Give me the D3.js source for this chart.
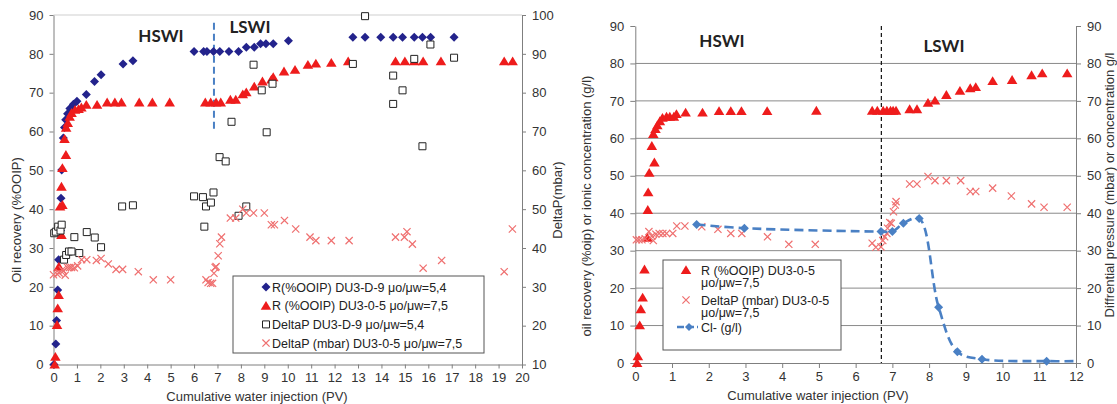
<!DOCTYPE html>
<html>
<head>
<meta charset="utf-8">
<script src="https://cdn.jsdelivr.net/npm/d3@7"></script>
<style>
  body { margin: 0; background: #fff; }
  text { font-family: "Liberation Sans", Arial, sans-serif; }
</style>
</head>
<body>
<svg id="chart" width="1117" height="404"></svg>
<script>
// ---- left panel data (DU3-D-9 and DU3-0-5) ----
const lDiamondPV = [0.02, 0.1, 0.13, 0.18, 0.22, 0.3, 0.32, 0.35, 0.42, 0.47, 0.52, 0.6, 0.7, 0.85, 1.0, 1.4, 1.75, 2.03, 2.97, 3.39,
  6.0, 6.41, 6.55, 6.83, 7.1, 7.49, 7.9, 8.23, 8.57, 8.84, 9.07, 9.38, 10.03,
  12.78, 13.3, 13.97, 14.5, 14.9, 15.4, 15.75, 16.1, 17.1];
const lDiamondR = [0, 5.3, 11.3, 19.2, 27, 34.5, 42.8, 50.1, 58.3, 61, 63, 64.6, 65.9, 67, 67.8, 69.5, 72.9, 74.6, 77.4, 78.2,
  80.6, 80.6, 80.6, 80.6, 80.6, 80.6, 80.6, 81.7, 81.7, 82.6, 82.6, 82.6, 83.4,
  84.3, 84.3, 84.3, 84.3, 84.3, 84.3, 84.3, 84.3, 84.3];

const lTrianglePV = [0.05, 0.08, 0.15, 0.18, 0.22, 0.23, 0.28, 0.34, 0.38, 0.34, 0.38, 0.53, 0.47, 0.54, 0.61, 0.69, 0.77, 0.92, 1.07, 1.19,
  1.4, 1.86, 2.29, 2.62, 2.9, 3.66, 4.22, 4.96, 6.48, 6.71, 6.94, 7.14, 7.55, 7.78, 8.08, 8.23, 8.57, 8.92, 9.3, 9.38,
  9.84, 10.31, 10.86, 11.2, 11.86, 12.58, 14.6, 15.0, 15.4, 15.78, 16.54, 19.24, 19.6];
const lTriangleR = [0, 2, 10.2, 14.5, 17.9, 25.2, 40.7, 33.4, 41.1, 45.8, 50.6, 54, 58.1, 61, 62.2, 63.8, 64.8, 65.6, 65.8, 66.2,
  66.9, 66.9, 67.5, 67.5, 67.5, 67.5, 67.5, 67.5, 67.5, 67.5, 67.5, 67.5, 68.2, 68.2, 69.6, 70.1, 71.6, 72.9, 73.4, 74,
  75.5, 75.9, 77.2, 77.5, 77.7, 78.1, 78.1, 78.1, 78.1, 78.1, 78.1, 78.1, 78.1];

const lSquarePV = [0.03, 0.1, 0.2, 0.3, 0.35, 0.45, 0.54, 0.66, 0.77, 0.89, 1.1, 1.42, 1.76, 2.03, 2.93, 3.39,
  6.0, 6.38, 6.44, 6.51, 6.72, 6.83, 7.09, 7.35, 7.6, 7.9, 8.23, 8.54, 8.89, 9.1, 9.35,
  12.78, 13.3, 14.5, 14.5, 14.9, 15.4, 15.75, 16.09, 17.1];
const lSquareDP = [43.8, 44.2, 45.5, 44.5, 46, 37, 38.2, 39.1, 39.1, 42.8, 38.7, 44.1, 42.7, 40.2, 50.7, 51,
  53.3, 53.1, 45.5, 50.7, 51.7, 54.3, 63.4, 62.3, 72.5, 48.3, 50.7, 87.2, 80.6, 69.8, 82.3,
  87.4, 99.7, 84.4, 77.1, 80.6, 88.7, 66.2, 92.4, 89];

const lCrossPV = [0.0, 0.15, 0.24, 0.38, 0.42, 0.5, 0.6, 0.69, 0.77, 0.89, 1.03, 1.2, 1.42, 1.83, 2.03, 2.34, 2.67, 2.95, 3.62, 4.26, 5.0,
  6.51, 6.6, 6.71, 6.79, 6.85, 6.9, 6.94, 7.03, 7.1, 7.17, 7.55, 7.78, 8.08, 8.23, 8.54, 9.0, 9.3, 9.43, 9.86, 10.34,
  10.95, 11.2, 11.86, 12.62, 14.6, 14.98, 15.09, 15.32, 15.78, 16.57, 19.24, 19.59];
const lCrossDP = [33.1, 33.3, 33.6, 34.4, 34.1, 33, 35, 35, 35, 34.9, 35.4, 37, 37, 36.8, 37.3, 35.9, 34.5, 34.5, 33.9, 31.8, 31.8,
  31.8, 31.1, 30.9, 30.9, 33.5, 35, 35.2, 38, 41.1, 42.8, 47.7, 47.7, 50, 49, 49, 49, 46, 46, 47.1, 44.9,
  42.8, 41.9, 41.9, 41.9, 42.8, 42.8, 44.2, 41, 34.8, 36.8, 33.9, 44.9];

// ---- right panel data (DU3-0-5) ----
const rTrianglePV = [0.05, 0.07, 0.12, 0.15, 0.2, 0.25, 0.33, 0.34, 0.35, 0.38, 0.52, 0.45, 0.49, 0.55, 0.6, 0.67, 0.74, 0.85, 0.94, 1.05, 1.12,
  1.37, 1.83, 2.28, 2.6, 2.89, 3.59, 4.93, 6.45, 6.59, 6.75, 6.85, 6.95, 7.02, 7.1,
  7.47, 7.67, 7.97, 8.16, 8.47, 8.84, 9.12, 9.27, 9.73, 10.26, 10.79, 11.08, 11.76];
const rTriangleR = [0, 1.8, 10.1, 14.4, 17.5, 25, 33.5, 40.9, 45.6, 50.8, 53.6, 58, 61.2, 62.5, 63.5, 64.6, 65.5, 65.8, 65.8, 65.8, 66.5,
  66.9, 66.9, 67.3, 67.3, 67.3, 67.3, 67.4, 67.4, 67.4, 67.4, 67.4, 67.4, 67.4, 67.4,
  67.8, 67.8, 69.5, 70.1, 71.6, 72.7, 73.4, 73.7, 75.3, 75.6, 76.9, 77.4, 77.4];

const rCrossPV = [0.03, 0.1, 0.18, 0.27, 0.37, 0.45, 0.49, 0.56, 0.65, 0.75, 0.85, 1.02, 1.13, 1.35, 1.81, 2.25, 2.6, 2.9, 3.6, 4.18, 4.9,
  6.45, 6.55, 6.69, 6.74, 6.79, 6.85, 6.87, 6.93, 6.97, 7.03, 7.08, 7.1,
  7.47, 7.67, 7.97, 8.16, 8.47, 8.86, 9.12, 9.27, 9.73, 10.24, 10.79, 11.13, 11.76];
const rCrossDP = [32.9, 32.9, 32.9, 33.2, 35.1, 33.9, 32.7, 34.4, 34.6, 34.6, 34.6, 34.6, 36.6, 36.6, 36.4, 35.7, 34.6, 34.6, 33.7, 31.7, 31.7,
  32, 30.9, 31, 32.7, 33.7, 34.6, 36, 37.5, 37.3, 40.4, 42.2, 43.1,
  47.8, 47.8, 49.8, 48.7, 48.7, 48.7, 45.8, 45.8, 46.7, 44.6, 42.5, 41.6, 41.6];

const clPV = [1.67, 2.97, 6.69, 7.0, 7.3, 7.73, 8.26, 8.77, 9.44, 11.2, 12];
const clConc = [37, 36, 35.1, 35.1, 37.3, 38.6, 14.9, 3.0, 1.0, 0.5, 0.5];

// ---- ticks and labels ----
const lTicksX = d3.range(0, 21);
const lTicksY = d3.range(0, 91, 10);
const lTicksY2 = d3.range(10, 101, 10);
const rTicksX = d3.range(0, 13);
const rTicksY = d3.range(0, 91, 10);
const rGrid = d3.range(10, 81, 10);

const lLegend = ["R(%OOIP) DU3-D-9 \u03bco/\u03bcw=5,4", "R (%OOIP) DU3-0-5 \u03bco/\u03bcw=7,5",
  "DeltaP DU3-D-9 \u03bco/\u03bcw=5,4", "DeltaP (mbar) DU3-0-5 \u03bco/\u03bcw=7,5"];
const rLegend = [["R (%OOIP) DU3-0-5", "\u03bco/\u03bcw=7,5"], ["DeltaP (mbar) DU3-0-5", "\u03bco/\u03bcw=7,5"], ["Cl- (g/l)"]];

const navy = "#23238c", red = "#ee1c1c", pink = "#ef7070", blue = "#4a80c4", axisGray = "#7f7f7f";

const svg = d3.select("#chart");

// marker shapes
const diamond = r => `M0,${-r}L${r},0L0,${r}L${-r},0Z`;
const triangle = s => `M0,${-s}L${s * 1.1},${s * 0.85}L${-s * 1.1},${s * 0.85}Z`;
const cross = s => `M${-s},${-s}L${s},${s}M${s},${-s}L${-s},${s}`;

function styleAxis(g) {
  g.select(".domain").attr("stroke", axisGray);
  g.selectAll(".tick line").attr("stroke", axisGray);
  g.selectAll(".tick text").attr("fill", "#333").attr("font-size", 13)
    .style("font-family", "'Liberation Sans', Arial, sans-serif");
}

function drawMarks(g, kind, xs, ys, x, y, color) {
  const pts = xs.map((v, i) => [v, ys[i]]);
  const sel = g.append("g").selectAll("path").data(pts).join("path")
    .attr("transform", d => `translate(${x(d[0])},${y(d[1])})`);
  if (kind === "diamond") sel.attr("d", diamond(4.5)).attr("fill", color);
  if (kind === "triangle") sel.attr("d", triangle(4.8)).attr("fill", color);
  if (kind === "cross") sel.attr("d", cross(3.6)).attr("fill", "none").attr("stroke", color).attr("stroke-width", 1.2);
  if (kind === "square") sel.attr("d", "M-3.5,-3.5h7v7h-7Z").attr("fill", "#fff").attr("stroke", "#222").attr("stroke-width", 1);
}

// ================= left panel =================
function leftChart() {
  const x = d3.scaleLinear().domain([0, 20]).range([53.5, 522]);
  const y = d3.scaleLinear().domain([0, 90]).range([364.5, 15]);
  const y2 = d3.scaleLinear().domain([10, 100]).range([364.5, 15]);
  const g = svg.append("g");

  g.append("line").attr("x1", x(0)).attr("x2", x(20)).attr("y1", y(90)).attr("y2", y(90))
    .attr("stroke", "#cfcfcf");

  g.append("g").attr("transform", `translate(0,${y(0)})`)
    .call(d3.axisBottom(x).tickValues(lTicksX).tickSize(4).tickSizeOuter(0).tickPadding(4))
    .call(styleAxis);
  g.append("g").attr("transform", `translate(${x(0)},0)`)
    .call(d3.axisLeft(y).tickValues(lTicksY).tickSize(4).tickSizeOuter(0).tickPadding(6))
    .call(styleAxis);
  g.append("g").attr("transform", `translate(${x(20)},0)`)
    .call(d3.axisRight(y2).tickValues(lTicksY2).tickSize(4).tickSizeOuter(0).tickPadding(6))
    .call(styleAxis);

  // HSWI / LSWI boundary
  g.append("line").attr("x1", x(6.85)).attr("x2", x(6.85)).attr("y1", y(88)).attr("y2", y(60))
    .attr("stroke", blue).attr("stroke-width", 2).attr("stroke-dasharray", "7,4");
  g.append("text").attr("x", 161).attr("y", 42).attr("text-anchor", "middle")
    .style("font-family", "Lato, sans-serif").attr("font-weight", 700).attr("font-size", 17).attr("fill", "#222").text("HSWI");
  g.append("text").attr("x", 250).attr("y", 33).attr("text-anchor", "middle")
    .style("font-family", "Lato, sans-serif").attr("font-weight", 700).attr("font-size", 17).attr("fill", "#222").text("LSWI");

  drawMarks(g, "diamond", lDiamondPV, lDiamondR, x, y, navy);
  drawMarks(g, "triangle", lTrianglePV, lTriangleR, x, y, red);
  drawMarks(g, "square", lSquarePV, lSquareDP, x, y2);
  drawMarks(g, "cross", lCrossPV, lCrossDP, x, y2, pink);

  // axis titles
  g.append("text").attr("x", 257).attr("y", 401).attr("text-anchor", "middle").attr("font-size", 13)
    .attr("fill", "#333").text("Cumulative water injection (PV)");
  g.append("text").attr("transform", "translate(21,220) rotate(-90)").attr("text-anchor", "middle")
    .attr("font-size", 13).attr("fill", "#333").text("Oil recovery (%OOIP)");
  g.append("text").attr("transform", "translate(562,200) rotate(-90)").attr("text-anchor", "middle")
    .attr("font-size", 13).attr("fill", "#333").text("DeltaP(mbar)");

  // legend
  const lg = g.append("g");
  lg.append("rect").attr("x", 233).attr("y", 276).attr("width", 251).attr("height", 77)
    .attr("fill", "#fff").attr("stroke", "#555");
  const kinds = ["diamond", "triangle", "square", "cross"];
  const cols = [navy, red, null, pink];
  lLegend.forEach((t, i) => {
    const yy = 287 + i * 18.7;
    drawMarks(lg, kinds[i], [0], [0], v => 266, () => yy, cols[i]);
    lg.append("text").attr("x", 272).attr("y", yy + 4.5).attr("font-size", 12.5).attr("fill", "#222").text(t);
  });
}

// ================= right panel =================
function rightChart() {
  const x = d3.scaleLinear().domain([0, 12]).range([635.3, 1076]);
  const y = d3.scaleLinear().domain([0, 90]).range([363, 26]);
  const g = svg.append("g");

  g.append("g").selectAll("line").data(rGrid).join("line")
    .attr("x1", x(0)).attr("x2", x(12)).attr("y1", d => y(d)).attr("y2", d => y(d))
    .attr("stroke", "#8a8a8a").attr("stroke-width", 1);

  g.append("g").attr("transform", `translate(0,${y(0)})`)
    .call(d3.axisBottom(x).tickValues(rTicksX).tickSize(5).tickSizeOuter(0).tickPadding(4))
    .call(styleAxis);
  g.append("g").attr("transform", `translate(${x(0)},0)`)
    .call(d3.axisLeft(y).tickValues(rTicksY).tickSize(5).tickSizeOuter(0).tickPadding(6))
    .call(styleAxis);
  g.append("g").attr("transform", `translate(${x(12)},0)`)
    .call(d3.axisRight(y).tickValues(rTicksY).tickSize(5).tickSizeOuter(0).tickPadding(6))
    .call(styleAxis);

  g.append("line").attr("x1", x(6.7)).attr("x2", x(6.7)).attr("y1", y(90)).attr("y2", y(0))
    .attr("stroke", "#111").attr("stroke-width", 1.2).attr("stroke-dasharray", "4,3");
  g.append("text").attr("x", 722).attr("y", 47).attr("text-anchor", "middle")
    .style("font-family", "Lato, sans-serif").attr("font-weight", 700).attr("font-size", 17).attr("fill", "#222").text("HSWI");
  g.append("text").attr("x", 944).attr("y", 52).attr("text-anchor", "middle")
    .style("font-family", "Lato, sans-serif").attr("font-weight", 700).attr("font-size", 17).attr("fill", "#222").text("LSWI");

  drawMarks(g, "triangle", rTrianglePV, rTriangleR, x, y, red);
  drawMarks(g, "cross", rCrossPV, rCrossDP, x, y, pink);

  const line = d3.line().x(d => x(d[0])).y(d => y(d[1])).curve(d3.curveCatmullRom.alpha(0.5));
  const clPts = clPV.map((v, i) => [v, clConc[i]]);
  g.append("path").datum(clPts).attr("d", line).attr("fill", "none").attr("stroke", blue)
    .attr("stroke-width", 2.6).attr("stroke-dasharray", "9,5");
  g.append("g").selectAll("path").data(clPts.filter(d => d[0] < 12)).join("path")
    .attr("transform", d => `translate(${x(d[0])},${y(d[1])})`).attr("d", diamond(4.5)).attr("fill", blue);

  g.append("text").attr("x", 818).attr("y", 400).attr("text-anchor", "middle").attr("font-size", 13)
    .attr("fill", "#333").text("Cumulative water injection (PV)");
  g.append("text").attr("transform", "translate(591,206) rotate(-90)").attr("text-anchor", "middle")
    .attr("font-size", 13).attr("fill", "#333").text("oil recovery (%oip)  or ionic concentration (g/l)");
  g.append("text").attr("transform", "translate(1114,185) rotate(-90)").attr("text-anchor", "middle")
    .attr("font-size", 13).attr("fill", "#333").text("Diffrential pressure (mbar) or concentration g/l");

  // legend
  const lg = g.append("g");
  lg.append("rect").attr("x", 663).attr("y", 260).attr("width", 178).attr("height", 90)
    .attr("fill", "#fff").attr("stroke", "#555");
  const rowY = [[270, 282], [300, 312], [327]];
  drawMarks(lg, "triangle", [0], [0], () => 686, () => 270, red);
  drawMarks(lg, "cross", [0], [0], () => 686, () => 300, pink);
  lg.append("line").attr("x1", 677).attr("x2", 698).attr("y1", 327).attr("y2", 327)
    .attr("stroke", blue).attr("stroke-width", 2.6).attr("stroke-dasharray", "7,3");
  lg.append("path").attr("transform", "translate(689,327)").attr("d", diamond(4)).attr("fill", blue);
  rLegend.forEach((lines, i) => {
    lines.forEach((t, j) => {
      lg.append("text").attr("x", 701).attr("y", rowY[i][j] + 4.5).attr("font-size", 12.5)
        .attr("fill", "#222").text(t);
    });
  });
}

leftChart();
rightChart();
</script>
</body>
</html>
